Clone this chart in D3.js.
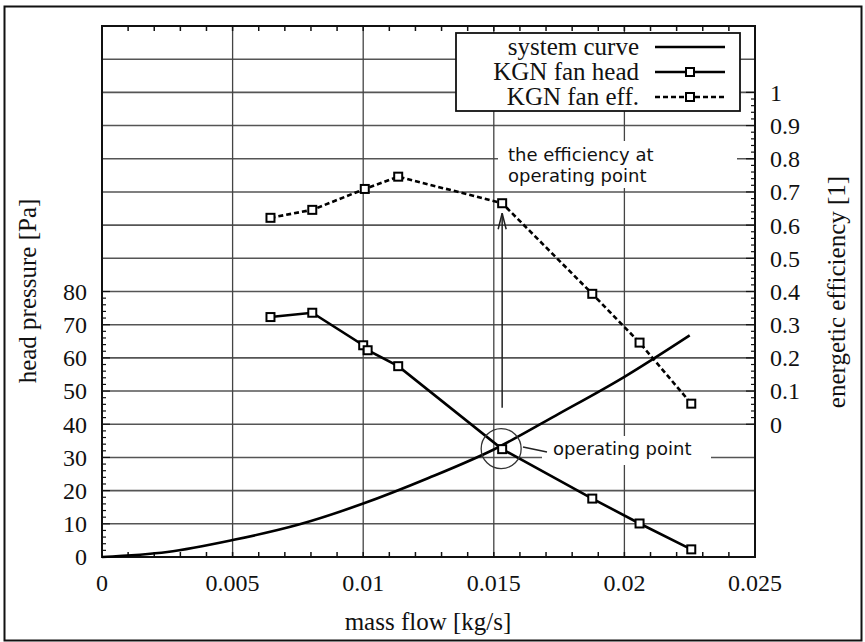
<!DOCTYPE html>
<html>
<head>
<meta charset="utf-8">
<script src="https://cdn.jsdelivr.net/npm/d3@7"></script>
<style>
  body { margin: 0; background: #fff; }
  svg { display: block; }
</style>
</head>
<body>
<div id="plot"></div>
<script>
// data
const flowHead = [0.00645, 0.00805, 0.0100, 0.01017, 0.01134, 0.01532, 0.01877, 0.02058, 0.02256];
const fanHead = [72.3, 73.6, 63.8, 62.3, 57.5, 32.5, 17.6, 10.1, 2.3];
const flowEff = [0.00645, 0.00805, 0.01006, 0.01134, 0.01532, 0.01877, 0.02058, 0.02256];
const fanEff = [0.622, 0.646, 0.709, 0.746, 0.666, 0.393, 0.246, 0.062];
const flowSys = [0, 0.0025, 0.005, 0.0075, 0.01, 0.0125, 0.015, 0.0175, 0.02, 0.0225];
const sysHead = [0, 1.5, 5.1, 9.7, 16.1, 23.8, 32.4, 43.2, 54.3, 66.8];
const xTicks = [0, 0.005, 0.01, 0.015, 0.02, 0.025];
const xTickLabels = ["0", "0.005", "0.01", "0.015", "0.02", "0.025"];
const leftTicks = [0, 10, 20, 30, 40, 50, 60, 70, 80];
const rightTicks = [0, 0.1, 0.2, 0.3, 0.4, 0.5, 0.6, 0.7, 0.8, 0.9, 1];
const legendLabels = ["system curve", "KGN fan head", "KGN fan eff."];
const opFlow = 0.01532, opHead = 32.5, opEff = 0.666;

const serif = "'Liberation Serif', 'Times New Roman', serif";
const sans = "'DejaVu Sans', Verdana, sans-serif";

const svg = d3.select("div#plot")
              .append("svg")
              .attr("width", 865)
              .attr("height", 642);

// outer frame
svg.append("rect")
   .attr("x", 4.5).attr("y", 6.5)
   .attr("width", 857).attr("height", 634)
   .attr("fill", "none").attr("stroke", "#111").attr("stroke-width", 2);

const x = d3.scaleLinear().domain([0, 0.025]).range([102, 755]);
const yL = d3.scaleLinear().domain([0, 160]).range([557, 26]);
const yR = d3.scaleLinear().domain([-0.4, 1.2]).range([557, 26]);

// grid
svg.selectAll("line.hgrid")
   .data(d3.range(10, 160, 10))
   .enter().append("line")
   .attr("class", "hgrid")
   .attr("x1", x(0)).attr("x2", x(0.025))
   .attr("y1", d => yL(d)).attr("y2", d => yL(d))
   .attr("stroke", "#555").attr("stroke-width", 1.6);
svg.selectAll("line.vgrid")
   .data([0.005, 0.01, 0.015, 0.02])
   .enter().append("line")
   .attr("class", "vgrid")
   .attr("x1", d => x(d)).attr("x2", d => x(d))
   .attr("y1", yL(0)).attr("y2", yL(160))
   .attr("stroke", "#444").attr("stroke-width", 1.3);

// minor ticks
const minorX = d3.range(1, 25).map(d => d * 0.001);
svg.selectAll("line.xtb")
   .data(minorX).enter().append("line")
   .attr("x1", d => x(d)).attr("x2", d => x(d))
   .attr("y1", yL(0)).attr("y2", yL(0) - 5)
   .attr("stroke", "#111").attr("stroke-width", 1.5);
svg.selectAll("line.xtt")
   .data(minorX).enter().append("line")
   .attr("x1", d => x(d)).attr("x2", d => x(d))
   .attr("y1", yL(160)).attr("y2", yL(160) + 5)
   .attr("stroke", "#111").attr("stroke-width", 1.5);
svg.selectAll("line.ylt")
   .data(d3.range(0, 81, 2)).enter().append("line")
   .attr("x1", x(0)).attr("x2", d => x(0) + (d % 10 === 0 ? 8 : 4))
   .attr("y1", d => yL(d)).attr("y2", d => yL(d))
   .attr("stroke", "#111").attr("stroke-width", 1.2);
svg.selectAll("line.yrt")
   .data(d3.range(0, 51).map(d => d * 0.02)).enter().append("line")
   .attr("x1", x(0.025)).attr("x2", (d, i) => x(0.025) - (i % 5 === 0 ? 9 : 4))
   .attr("y1", d => yR(d)).attr("y2", d => yR(d))
   .attr("stroke", "#111").attr("stroke-width", 1.2);

// annotation boxes hide the grid
svg.append("rect").attr("x", 498).attr("y", 141).attr("width", 239).attr("height", 47).attr("fill", "#fff");
svg.append("rect").attr("x", 542).attr("y", 436).attr("width", 169).attr("height", 29).attr("fill", "#fff");

// plot frame
svg.append("rect")
   .attr("x", x(0)).attr("y", yL(160))
   .attr("width", x(0.025) - x(0)).attr("height", yL(0) - yL(160))
   .attr("fill", "none").attr("stroke", "#111").attr("stroke-width", 2);

// tick labels
svg.selectAll("text.xl")
   .data(xTicks).enter().append("text")
   .attr("x", d => x(d)).attr("y", 591)
   .attr("text-anchor", "middle")
   .attr("font-family", serif).attr("font-size", "24px").attr("fill", "#111")
   .text((d, i) => xTickLabels[i]);
svg.selectAll("text.yl")
   .data(leftTicks).enter().append("text")
   .attr("x", 87).attr("y", d => yL(d)).attr("dy", "0.35em")
   .attr("text-anchor", "end")
   .attr("font-family", serif).attr("font-size", "24px").attr("fill", "#111")
   .text(d => d);
svg.selectAll("text.yr")
   .data(rightTicks).enter().append("text")
   .attr("x", 770).attr("y", d => yR(d)).attr("dy", "0.35em")
   .attr("font-family", serif).attr("font-size", "24px").attr("fill", "#111")
   .text(d => d3.format("~g")(d));

// axis titles
svg.append("text")
   .attr("x", 428).attr("y", 630).attr("text-anchor", "middle")
   .attr("font-family", serif).attr("font-size", "25px").attr("fill", "#111")
   .text("mass flow [kg/s]");
svg.append("text")
   .attr("transform", "translate(36,291) rotate(-90)").attr("text-anchor", "middle")
   .attr("font-family", serif).attr("font-size", "25px").attr("fill", "#111")
   .text("head pressure [Pa]");
svg.append("text")
   .attr("transform", "translate(845,292) rotate(-90)").attr("text-anchor", "middle")
   .attr("font-family", serif).attr("font-size", "25px").attr("fill", "#111")
   .text("energetic efficiency [1]");

// series
const sysData = flowSys.map((f, i) => [f, sysHead[i]]);
const headData = flowHead.map((f, i) => [f, fanHead[i]]);
const effData = flowEff.map((f, i) => [f, fanEff[i]]);

svg.append("path")
   .datum(sysData)
   .attr("d", d3.line().x(d => x(d[0])).y(d => yL(d[1])).curve(d3.curveMonotoneX))
   .attr("fill", "none").attr("stroke", "#000").attr("stroke-width", 2.6);
svg.append("path")
   .datum(headData)
   .attr("d", d3.line().x(d => x(d[0])).y(d => yL(d[1])))
   .attr("fill", "none").attr("stroke", "#000").attr("stroke-width", 2.6);
svg.append("path")
   .datum(effData)
   .attr("d", d3.line().x(d => x(d[0])).y(d => yR(d[1])))
   .attr("fill", "none").attr("stroke", "#000").attr("stroke-width", 2.6)
   .attr("stroke-dasharray", "5,3");

function squares(data, yScale) {
  svg.append("g").selectAll("rect")
     .data(data).enter().append("rect")
     .attr("x", d => x(d[0]) - 4).attr("y", d => yScale(d[1]) - 4)
     .attr("width", 8).attr("height", 8)
     .attr("fill", "#fff").attr("stroke", "#000").attr("stroke-width", 2);
}
squares(headData, yL);
squares(effData, yR);

// operating point annotation
svg.append("circle")
   .attr("cx", x(opFlow) - 1).attr("cy", yL(opHead) - 0.5).attr("r", 20)
   .attr("fill", "none").attr("stroke", "#333").attr("stroke-width", 1.3);
svg.append("line")
   .attr("x1", 523).attr("y1", 447).attr("x2", 547).attr("y2", 452)
   .attr("stroke", "#222").attr("stroke-width", 1.5);
svg.append("text")
   .attr("x", 553).attr("y", 455)
   .attr("font-family", sans).attr("font-size", "18px").attr("fill", "#111")
   .text("operating point");

// arrow to the efficiency
const ax = x(opFlow), ayTop = yR(opEff) + 10, ayBot = yL(45);
svg.append("line")
   .attr("x1", ax).attr("x2", ax).attr("y1", ayBot).attr("y2", ayTop)
   .attr("stroke", "#222").attr("stroke-width", 1.5);
svg.append("path")
   .attr("d", `M${ax - 4},${ayTop + 16} L${ax},${ayTop} L${ax + 4},${ayTop + 16}`)
   .attr("fill", "none").attr("stroke", "#222").attr("stroke-width", 1.5);
svg.append("text")
   .attr("x", 508).attr("y", 161)
   .attr("font-family", sans).attr("font-size", "18px").attr("fill", "#111")
   .text("the efficiency at");
svg.append("text")
   .attr("x", 508).attr("y", 182)
   .attr("font-family", sans).attr("font-size", "18px").attr("fill", "#111")
   .text("operating point");

// legend
const legend = svg.append("g");
legend.append("rect")
   .attr("x", 456).attr("y", 33).attr("width", 284).attr("height", 78)
   .attr("fill", "#fff").attr("stroke", "#111").attr("stroke-width", 1.8);
const rowY = [47, 72, 97];
legend.selectAll("text")
   .data(legendLabels).enter().append("text")
   .attr("x", 639).attr("y", (d, i) => rowY[i] + 8)
   .attr("text-anchor", "end")
   .attr("font-family", serif).attr("font-size", "25px").attr("fill", "#111")
   .text(d => d);
legend.selectAll("line")
   .data(legendLabels).enter().append("line")
   .attr("x1", 655).attr("x2", 725)
   .attr("y1", (d, i) => rowY[i]).attr("y2", (d, i) => rowY[i])
   .attr("stroke", "#000").attr("stroke-width", 2.6)
   .attr("stroke-dasharray", (d, i) => i === 2 ? "5,3" : null);
legend.selectAll("rect.mk")
   .data(legendLabels.slice(1)).enter().append("rect")
   .attr("class", "mk")
   .attr("x", 686).attr("y", (d, i) => rowY[i + 1] - 4)
   .attr("width", 8).attr("height", 8)
   .attr("fill", "#fff").attr("stroke", "#000").attr("stroke-width", 2);
</script>
</body>
</html>
